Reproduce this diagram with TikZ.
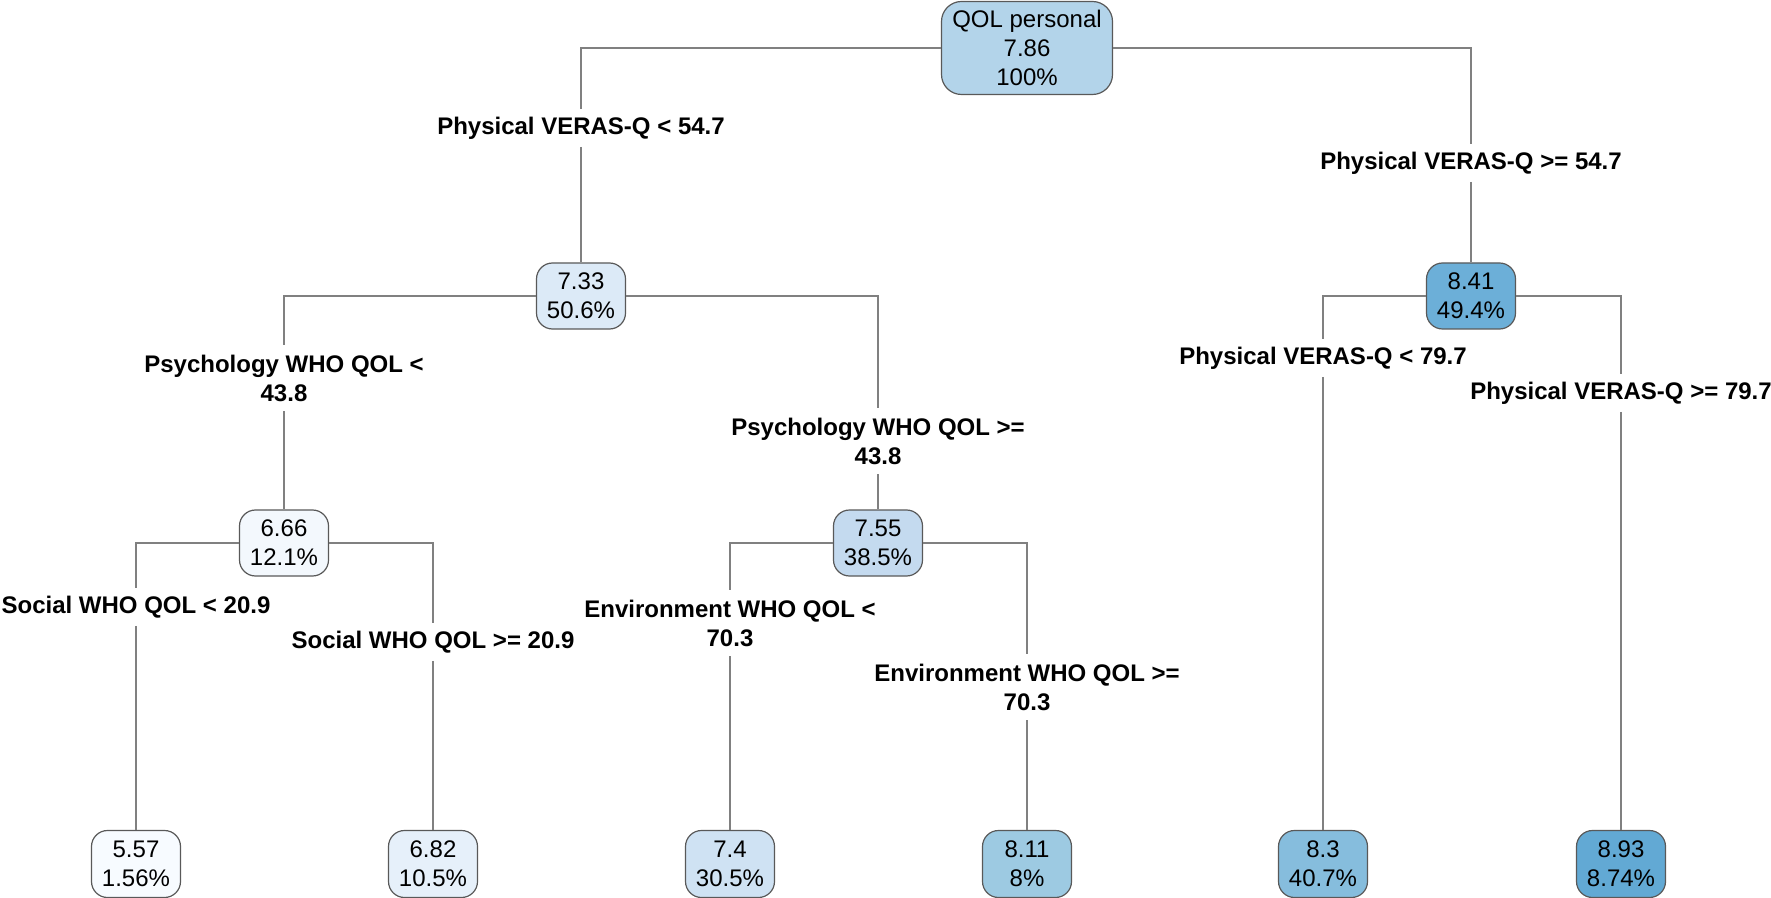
\documentclass[tikz,border=0pt]{standalone}
\usepackage{fontspec}
\setmainfont{Liberation Sans}
\usetikzlibrary{positioning}

\definecolor{bl0}{HTML}{F7FBFF}
\definecolor{bl1}{HTML}{F3F8FD}
\definecolor{bl2}{HTML}{E6F0FA}
\definecolor{bl3}{HTML}{DCEAF7}
\definecolor{bl4}{HTML}{CFE2F3}
\definecolor{bl5}{HTML}{C4DAEF}
\definecolor{bl6}{HTML}{B3D4EA}
\definecolor{bl7}{HTML}{9DCAE2}
\definecolor{bl8}{HTML}{86BDDD}
\definecolor{bl9}{HTML}{6CAFD8}
\definecolor{bl10}{HTML}{62A9D4}

\begin{document}
\begin{tikzpicture}[
  x=0.5pt, y=-0.5pt,
  font=\fontsize{12}{14.5}\selectfont,
  tbox/.style={rectangle, rounded corners=8pt, draw=black!65, line width=0.6pt,
               minimum width=44.5pt, minimum height=33pt, inner xsep=5pt,
               inner ysep=2pt, align=center},
  leaf/.style={tbox, minimum height=33.5pt},
  cond/.style={fill=white, inner xsep=1pt, inner ysep=0pt, minimum height=18.5pt,
               align=center, font=\fontsize{12}{14.5}\selectfont\bfseries},
  cond2/.style={cond, minimum height=33pt},
  link/.style={draw=black!50, line width=0.7pt}
]
\useasboundingbox (0,0) rectangle (1771,898);

% split nodes
\node[tbox, fill=bl6, minimum width=85.5pt, minimum height=46.5pt, rounded corners=10pt]
      (root) at (1027, 48) {QOL personal\\7.86\\100\%};
\node[tbox, fill=bl3] (n733) at (581, 296)  {7.33\\50.6\%};
\node[tbox, fill=bl9] (n841) at (1471, 296) {8.41\\49.4\%};
\node[tbox, fill=bl1] (n666) at (284, 543)  {6.66\\12.1\%};
\node[tbox, fill=bl5] (n755) at (878, 543)  {7.55\\38.5\%};

% leaves
\node[leaf, fill=bl0]  (n557) at (136, 864)  {5.57\\1.56\%};
\node[leaf, fill=bl2]  (n682) at (433, 864)  {6.82\\10.5\%};
\node[leaf, fill=bl4]  (n740) at (730, 864)  {7.4\\30.5\%};
\node[leaf, fill=bl7]  (n811) at (1027, 864) {8.11\\8\%};
\node[leaf, fill=bl8]  (n830) at (1323, 864) {8.3\\40.7\%};
\node[leaf, fill=bl10] (n893) at (1621, 864) {8.93\\8.74\%};

% split conditions
\node[cond]  (c1)  at (581, 128)  {Physical VERAS-Q < 54.7};
\node[cond]  (c2)  at (1471, 163) {Physical VERAS-Q >= 54.7};
\node[cond2] (c3)  at (284, 378)  {Psychology WHO QOL <\\43.8};
\node[cond2] (c4)  at (878, 441)  {Psychology WHO QOL >=\\43.8};
\node[cond]  (c5)  at (1323, 358) {Physical VERAS-Q < 79.7};
\node[cond]  (c6)  at (1621, 393) {Physical VERAS-Q >= 79.7};
\node[cond]  (c7)  at (136, 607)  {Social WHO QOL < 20.9};
\node[cond]  (c8)  at (433, 642)  {Social WHO QOL >= 20.9};
\node[cond2] (c9)  at (730, 623)  {Environment WHO QOL <\\70.3};
\node[cond2] (c10) at (1027, 687) {Environment WHO QOL >=\\70.3};

% branches
\draw[link] (root.west) -| (c1.north);  \draw[link] (c1.south) -- (n733.north);
\draw[link] (root.east) -| (c2.north);  \draw[link] (c2.south) -- (n841.north);
\draw[link] (n733.west) -| (c3.north);  \draw[link] (c3.south) -- (n666.north);
\draw[link] (n733.east) -| (c4.north);  \draw[link] (c4.south) -- (n755.north);
\draw[link] (n841.west) -| (c5.north);  \draw[link] (c5.south) -- (n830.north);
\draw[link] (n841.east) -| (c6.north);  \draw[link] (c6.south) -- (n893.north);
\draw[link] (n666.west) -| (c7.north);  \draw[link] (c7.south) -- (n557.north);
\draw[link] (n666.east) -| (c8.north);  \draw[link] (c8.south) -- (n682.north);
\draw[link] (n755.west) -| (c9.north);  \draw[link] (c9.south) -- (n740.north);
\draw[link] (n755.east) -| (c10.north); \draw[link] (c10.south) -- (n811.north);
\end{tikzpicture}
\end{document}
